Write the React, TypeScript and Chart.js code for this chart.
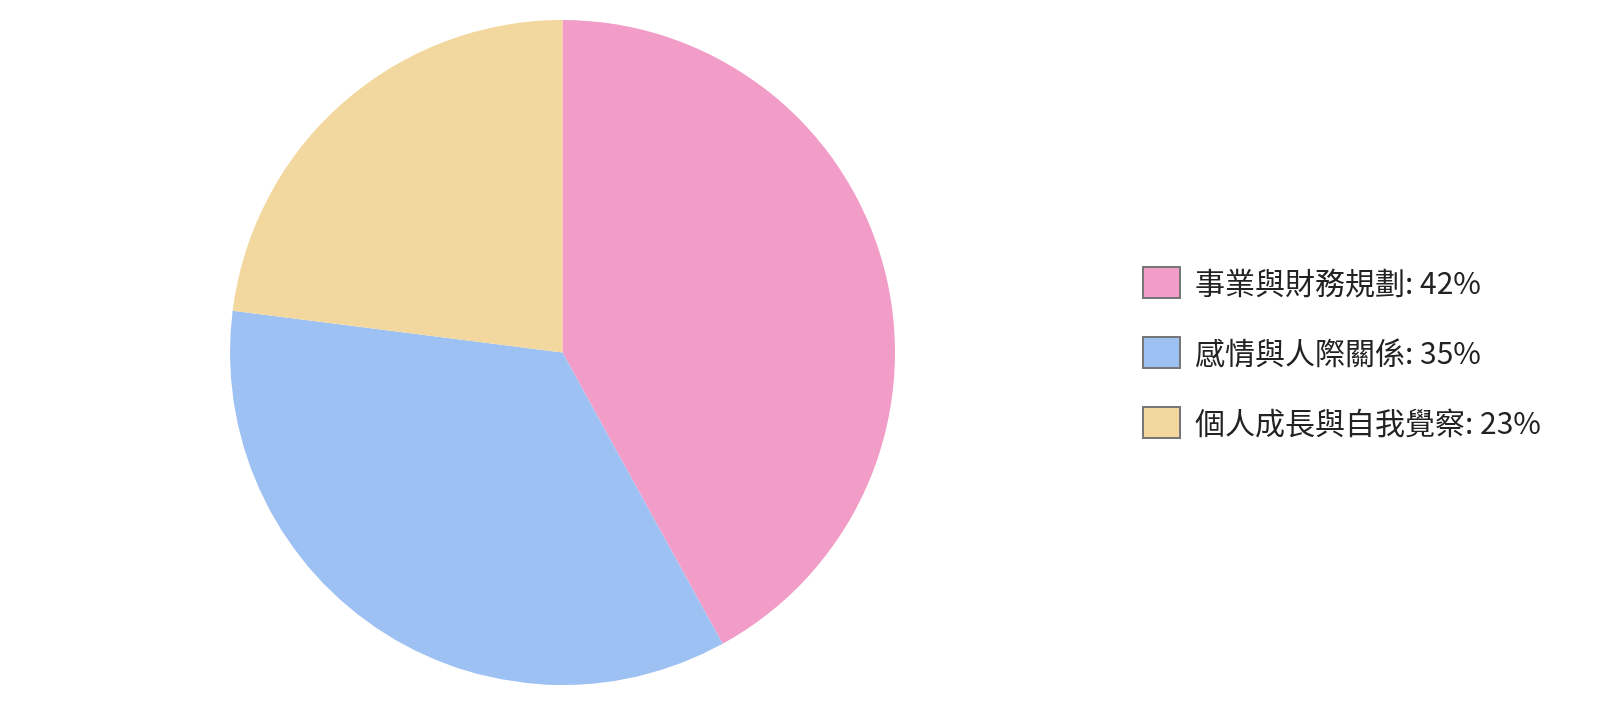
import React, { useEffect, useRef } from "react";
import { Chart, registerables } from "chart.js";

Chart.register(...registerables);

const categories = ["事業與財務規劃", "感情與人際關係", "個人成長與自我覺察"];
const values = [42, 35, 23];
const colors = ["#F29DC7", "#9EC1F4", "#F2D89E"];

export default function App() {
  const ref = useRef<HTMLCanvasElement | null>(null);
  useEffect(() => {
    if (!ref.current) return;
    const chart = new Chart(ref.current, {
      type: "pie",
      data: {
        labels: categories.map((c, i) => `${c}: ${values[i]}%`),
        datasets: [
          {
            data: values,
            backgroundColor: colors,
            borderWidth: 0,
          },
        ],
      },
      options: {
        animation: false,
        responsive: true,
        maintainAspectRatio: false,
        layout: { padding: { left: 21, right: 49, top: 20, bottom: 20 } },
        plugins: {
          tooltip: { enabled: false },
          legend: {
            position: "right",
            labels: {
              boxWidth: 37,
              boxHeight: 31,
              padding: 39,
              color: "#222",
              font: { size: 30, family: "'Noto Sans CJK TC', 'Noto Sans', sans-serif" },
              generateLabels: (c: any) => {
                const items = Chart.overrides.pie.plugins.legend.labels.generateLabels(c);
                return items.map((it: any) => ({ ...it, strokeStyle: "#777777", lineWidth: 2 }));
              },
            },
          },
        },
      },
    });
    return () => chart.destroy();
  }, []);
  return (
    <div style={{ position: "fixed", left: 0, top: 0, width: 1600, height: 705, background: "#fff" }}>
      <canvas ref={ref} />
    </div>
  );
}
